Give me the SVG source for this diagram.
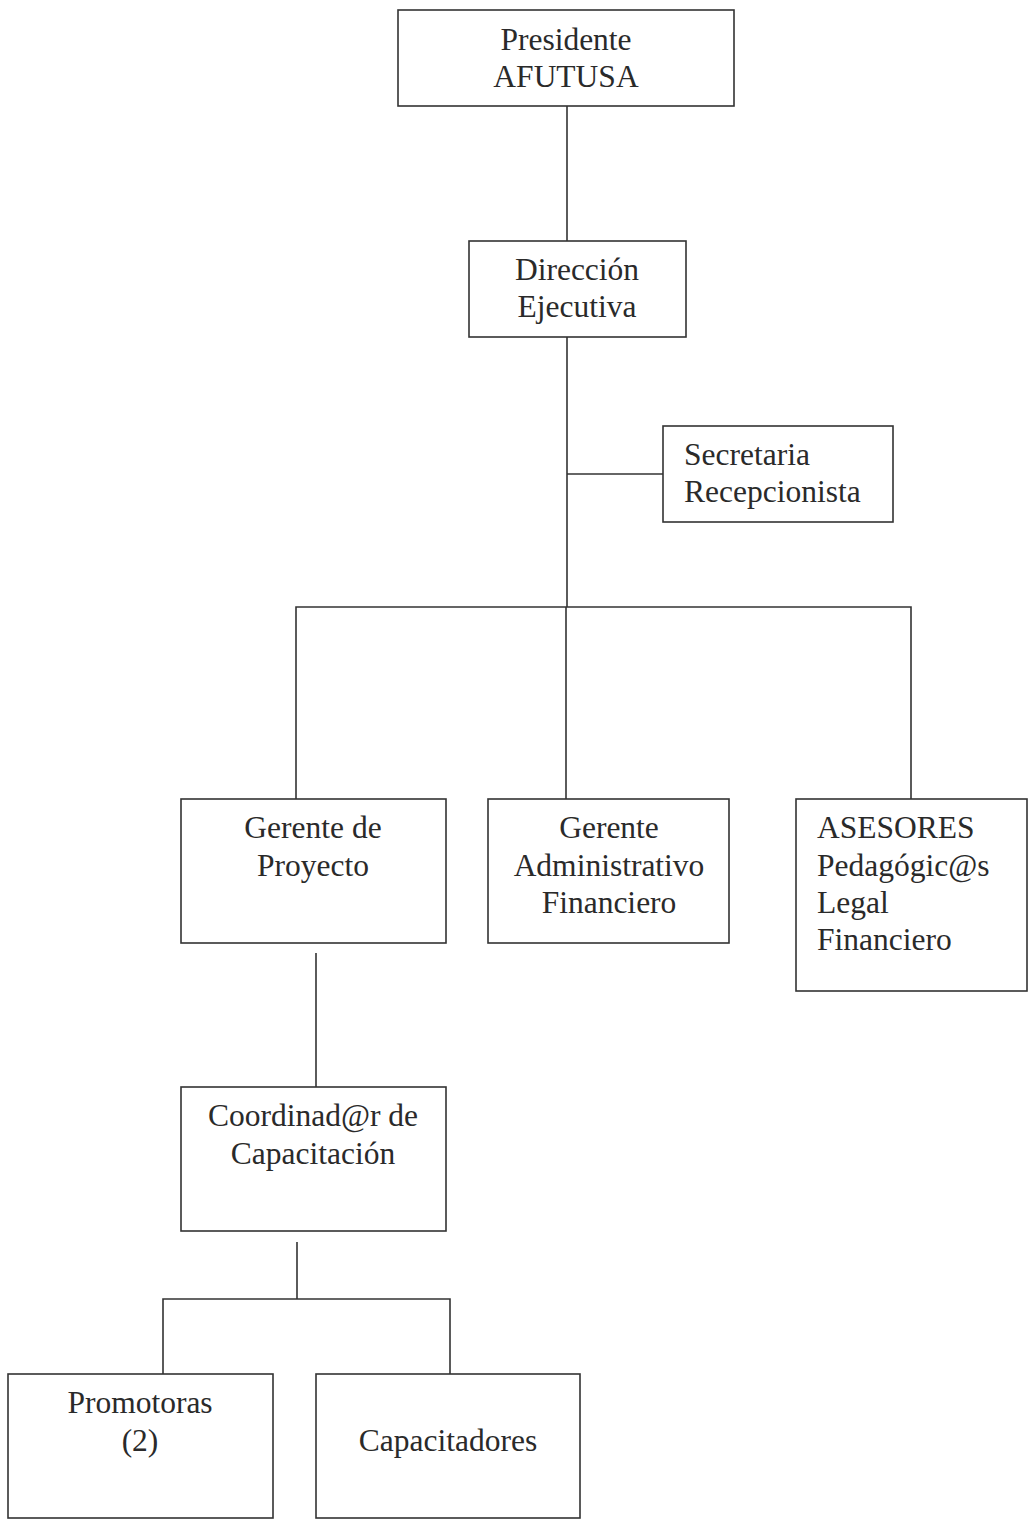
<svg xmlns="http://www.w3.org/2000/svg" width="1030" height="1524" viewBox="0 0 1030 1524">
<style>
.box{fill:#fff;stroke:#333;stroke-width:1.6}
.ln{fill:none;stroke:#333;stroke-width:1.6}
text{font-family:"Liberation Serif","Times New Roman",serif;font-size:31.5px;fill:#2a2a2a}
.c{text-anchor:middle}
</style>
<rect width="1030" height="1524" fill="#fff"/>
<g id="connectors">
<path class="ln" d="M567 106V241"/>
<path class="ln" d="M567 337V607"/>
<path class="ln" d="M567 474H663"/>
<path class="ln" d="M296 799V607H911V799"/>
<path class="ln" d="M566 607V799"/>
<path class="ln" d="M316 953V1087"/>
<path class="ln" d="M297 1242V1299"/>
<path class="ln" d="M163 1374V1299H450V1374"/>
</g>
<g id="presidente">
<rect class="box" x="398" y="10" width="336" height="96"/>
<text class="c" x="566" y="50">Presidente</text>
<text class="c" x="566" y="87">AFUTUSA</text>
</g>
<g id="direccion">
<rect class="box" x="469" y="241" width="217" height="96"/>
<text class="c" x="577" y="280">Dirección</text>
<text class="c" x="577" y="317">Ejecutiva</text>
</g>
<g id="secretaria">
<rect class="box" x="663" y="426" width="230" height="96"/>
<text x="684" y="465">Secretaria</text>
<text x="684" y="502">Recepcionista</text>
</g>
<g id="gerente-proyecto">
<rect class="box" x="181" y="799" width="265" height="144"/>
<text class="c" x="313" y="838">Gerente de</text>
<text class="c" x="313" y="876">Proyecto</text>
</g>
<g id="gerente-admin">
<rect class="box" x="488" y="799" width="241" height="144"/>
<text class="c" x="609" y="838">Gerente</text>
<text class="c" x="609" y="876">Administrativo</text>
<text class="c" x="609" y="913">Financiero</text>
</g>
<g id="asesores">
<rect class="box" x="796" y="799" width="231" height="192"/>
<text x="817" y="838">ASESORES</text>
<text x="817" y="876">Pedagógic@s</text>
<text x="817" y="913">Legal</text>
<text x="817" y="950">Financiero</text>
</g>
<g id="coordinador">
<rect class="box" x="181" y="1087" width="265" height="144"/>
<text class="c" x="313" y="1126">Coordinad@r de</text>
<text class="c" x="313" y="1164">Capacitación</text>
</g>
<g id="promotoras">
<rect class="box" x="8" y="1374" width="265" height="144"/>
<text class="c" x="140" y="1413">Promotoras</text>
<text class="c" x="140" y="1451">(2)</text>
</g>
<g id="capacitadores">
<rect class="box" x="316" y="1374" width="264" height="144"/>
<text class="c" x="448" y="1451">Capacitadores</text>
</g>
</svg>
